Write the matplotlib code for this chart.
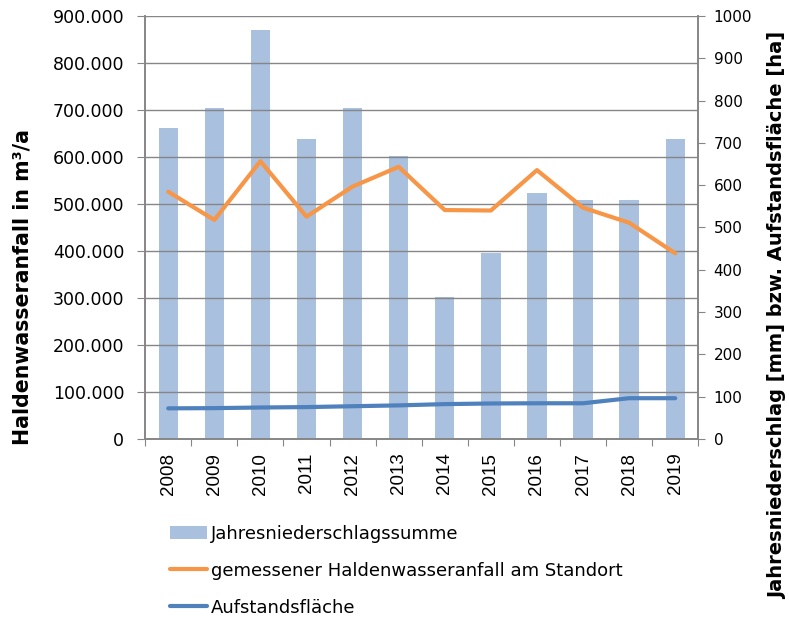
import matplotlib
matplotlib.use("Agg")
import matplotlib.pyplot as plt
import numpy as np
from matplotlib.ticker import FuncFormatter

plt.rcParams["font.family"] = ["DejaVu Sans"]

years = ["2008", "2009", "2010", "2011", "2012", "2013",
         "2014", "2015", "2016", "2017", "2018", "2019"]
# Jahresniederschlagssumme [mm]
niederschlag = [735, 782, 967, 709, 782, 670, 336, 440, 581, 564, 566, 709]
# gemessener Haldenwasseranfall [m³/a]
haldenwasser = [526000, 466000, 591000, 473000, 537000, 579000,
                487000, 486000, 572000, 492000, 460000, 395000]
# Aufstandsfläche [ha]
flaeche = [72, 72.5, 74, 75, 77, 79, 82, 83.5, 84, 84, 96, 96]

bar_col = "#A9C0DF"
orange = "#F79646"
blue = "#4F81BD"
grid_col = "#868686"

fig = plt.figure(figsize=(7.89, 6.18), dpi=100)
ax = fig.add_axes([0.184, 0.290, 0.701, 0.684])
ax2 = ax.twinx()

x = np.arange(len(years))
bars = ax2.bar(x, niederschlag, width=0.42, color=bar_col, zorder=1)
ln_b, = ax2.plot(x, flaeche, color=blue, lw=3, solid_capstyle="round", zorder=3)

ax.set_zorder(ax2.get_zorder() + 1)
ax.patch.set_visible(False)
ln_o, = ax.plot(x, haldenwasser, color=orange, lw=3, solid_capstyle="round", zorder=3)

ax.set_xlim(-0.5, len(years) - 0.5)
ax.set_ylim(0, 900000)
ax.set_yticks(np.arange(0, 900001, 100000))
ax.yaxis.set_major_formatter(FuncFormatter(lambda v, p: f"{int(v):,}".replace(",", ".")))
ax2.set_ylim(0, 1000)
ax2.set_yticks(np.arange(0, 1001, 100))

ax.set_xticks(np.arange(-0.5, len(years), 1.0))
ax.set_xticklabels([])
ax.set_xticks(x, minor=True)
ax.set_xticklabels(years, minor=True, rotation=90, fontsize=13.5,
                   family="Liberation Sans")
ax.tick_params(axis="x", which="minor", length=0, pad=10)
ax.tick_params(axis="x", which="major", length=5, color=grid_col)
ax.tick_params(axis="y", length=6, color=grid_col, labelsize=12.5, pad=9)
ax2.tick_params(axis="y", length=5, color=grid_col, labelsize=11, pad=6)

ax.grid(axis="y", color=grid_col, lw=1)
for a in (ax, ax2):
    a.spines["top"].set_visible(False)
    for s in ("left", "right", "bottom"):
        a.spines[s].set_color(grid_col)
        a.spines[s].set_linewidth(1.2)

fig.text(0.029, 0.536, "Haldenwasseranfall in m³/a", rotation=90,
         ha="center", va="center", fontsize=14.8, fontweight="bold")
fig.text(0.986, 0.49, "Jahresniederschlag [mm] bzw. Aufstandsfläche [ha]",
         rotation=90, ha="center", va="center", fontsize=14, fontweight="bold")

fig.legend([bars, ln_o, ln_b],
           ["Jahresniederschlagssumme",
            "gemessener Haldenwasseranfall am Standort",
            "Aufstandsfläche"],
           loc="lower left", bbox_to_anchor=(0.195, -0.024), frameon=False,
           fontsize=13, handlelength=2.05, handletextpad=0.2, labelspacing=1.05)

fig.savefig("out.png", dpi=100, facecolor="white")
